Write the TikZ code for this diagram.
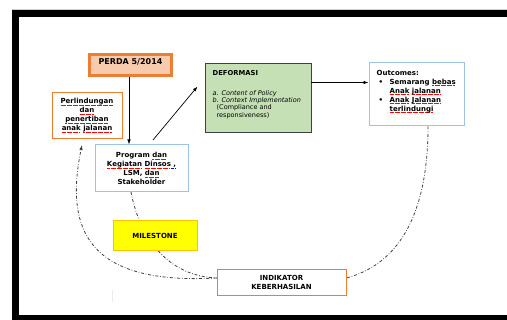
\documentclass[tikz,border=0pt]{standalone}
\usepackage{fontspec}
\setmainfont{DejaVu Sans}
\usetikzlibrary{arrows.meta}
\definecolor{orng}{HTML}{ED7D31}
\definecolor{perdafill}{HTML}{F8CBAD}
\definecolor{lblue}{HTML}{9DC3E6}
\definecolor{gfill}{HTML}{C5E0B4}
\definecolor{ylw}{HTML}{FFFF00}
\definecolor{gold}{HTML}{FFC000}
\definecolor{dgrey}{HTML}{404040}
\newsavebox\ulbox
\newcommand\ulwith[2]{\sbox\ulbox{#2}\rlap{\lower1.4pt\hbox to\wd\ulbox{\color{#1}\leaders\hbox{\rule{0.9pt}{0.35pt}\kern0.3pt}\hfill}}\usebox\ulbox}
\newcommand\rul[1]{\ulwith{red}{#1}}
\newcommand\bul[1]{\ulwith{blue}{#1}}
\tikzset{
  box/.style={rectangle, inner sep=0pt, align=center, font=\fontsize{7}{9}\selectfont\bfseries},
  arr/.style={-{Latex[length=5pt,width=3.5pt]}, line width=0.7pt, black},
  dd/.style={dgrey, line width=0.8pt, dash pattern=on 3pt off 1.8pt on 0.7pt off 1.8pt},
}
\begin{document}
\begin{tikzpicture}[x=1pt,y=-1pt]
\useasboundingbox (0,0) rectangle (507,320);
\begin{scope}
\clip (0,0) rectangle (507,320);
\draw[gray!40, line width=0.6pt] (12,9) -- (507,9);
\draw[line width=7pt] (15.5,13.5) rectangle (530,318.5);
\end{scope}
\draw[gray!15, line width=0.6pt] (112,290) -- (112,302);

% dash-dot connector behind milestone
\coordinate (p1) at (131,192);
\draw[dd] (p1) .. controls (140,240) and (170,278) .. (220,278);

\node[box, draw=orng, line width=3pt, fill=perdafill, minimum width=82pt, minimum height=21pt, anchor=center] (perda) at (130.5,65) {};
\node[box, anchor=base, font=\fontsize{8}{9}\selectfont\bfseries] (perdat) at (130.5,64.5) {PERDA 5/2014};

\node[box, draw=orng, line width=0.9pt, minimum width=70pt, minimum height=46pt] (perl) at (87,115.5)
 {\rul{Perlindungan}\\ \rul{dan}\\ \rul{penertiban}\\ \rul{anak} \rul{jalanan}};

\node[box, draw=lblue, line width=1pt, fill=white, minimum width=93pt, minimum height=47pt] (prog) at (141.5,168.5)
 {Program \rul{dan}\\ \rul{Kegiatan} \rul{Dinsos}\bul{ ,}\\ LSM, \rul{dan}\\ Stakeholder};

\node[box, draw=dgrey, line width=0.8pt, fill=gfill, minimum width=106pt, minimum height=69pt] (defo) at (258,97.5) {};
\node[anchor=base west, inner sep=0pt, font=\fontsize{6.8}{8}\selectfont\bfseries] (defot) at (212.5,76) {DEFORMASI};
\node[anchor=north west, inner sep=0pt, align=left, font=\fontsize{6.5}{7.4}\selectfont] (defob) at (212.5,90)
 {\textit{a. Content of Policy}\\ \textit{b. Context Implementation}\\ \hspace*{4pt}(Compliance and\\ \hspace*{4pt}responsiveness)};

\node[box, draw=lblue, line width=1pt, minimum width=95pt, minimum height=63pt] (outc) at (416.5,94.5) {};
\node[anchor=north west, inner sep=0pt, align=left, font=\fontsize{7}{9}\selectfont\bfseries] (outct) at (376.5,70)
 {Outcomes:\\
  \makebox[13pt][l]{\hspace*{2pt}\textbullet}Semarang \rul{bebas}\\
  \makebox[13pt][l]{}\rul{Anak} \rul{jalanan}\\
  \makebox[13pt][l]{\hspace*{2pt}\textbullet}\rul{Anak} \rul{Jalanan}\\
  \makebox[13pt][l]{}\rul{terlindungi}};

\node[box, draw=gold, line width=1pt, fill=ylw, minimum width=84pt, minimum height=30pt] (mile) at (155,236) {MILESTONE};

\node[box, draw=orng, line width=0.9pt, fill=white, minimum width=129pt, minimum height=26pt] (indi) at (281.5,282) {INDIKATOR\\KEBERHASILAN};

% arrows
\draw[arr] ([xshift=-1.5pt]perda.south) -- ([xshift=-1.5pt]perda.south |- prog.north);
\coordinate (a1) at (153,140);
\coordinate (a2) at (197.5,86.5);
\draw[arr] (a1) -- (a2);
\draw[arr] ([yshift=15pt]defo.east) -- ([yshift=12pt]outc.west);

% dash-dot curves
\draw[dd] ([xshift=11.5pt]outc.south) .. controls (428,220) and (395,265) .. ([yshift=4pt]indi.east);
\coordinate (pe) at (82,145);
\draw[dd, -{Latex[length=5pt,width=3.5pt]}] ([yshift=4pt]indi.west) .. controls (90,285) and (64,232) .. (pe);
\end{tikzpicture}
\end{document}
